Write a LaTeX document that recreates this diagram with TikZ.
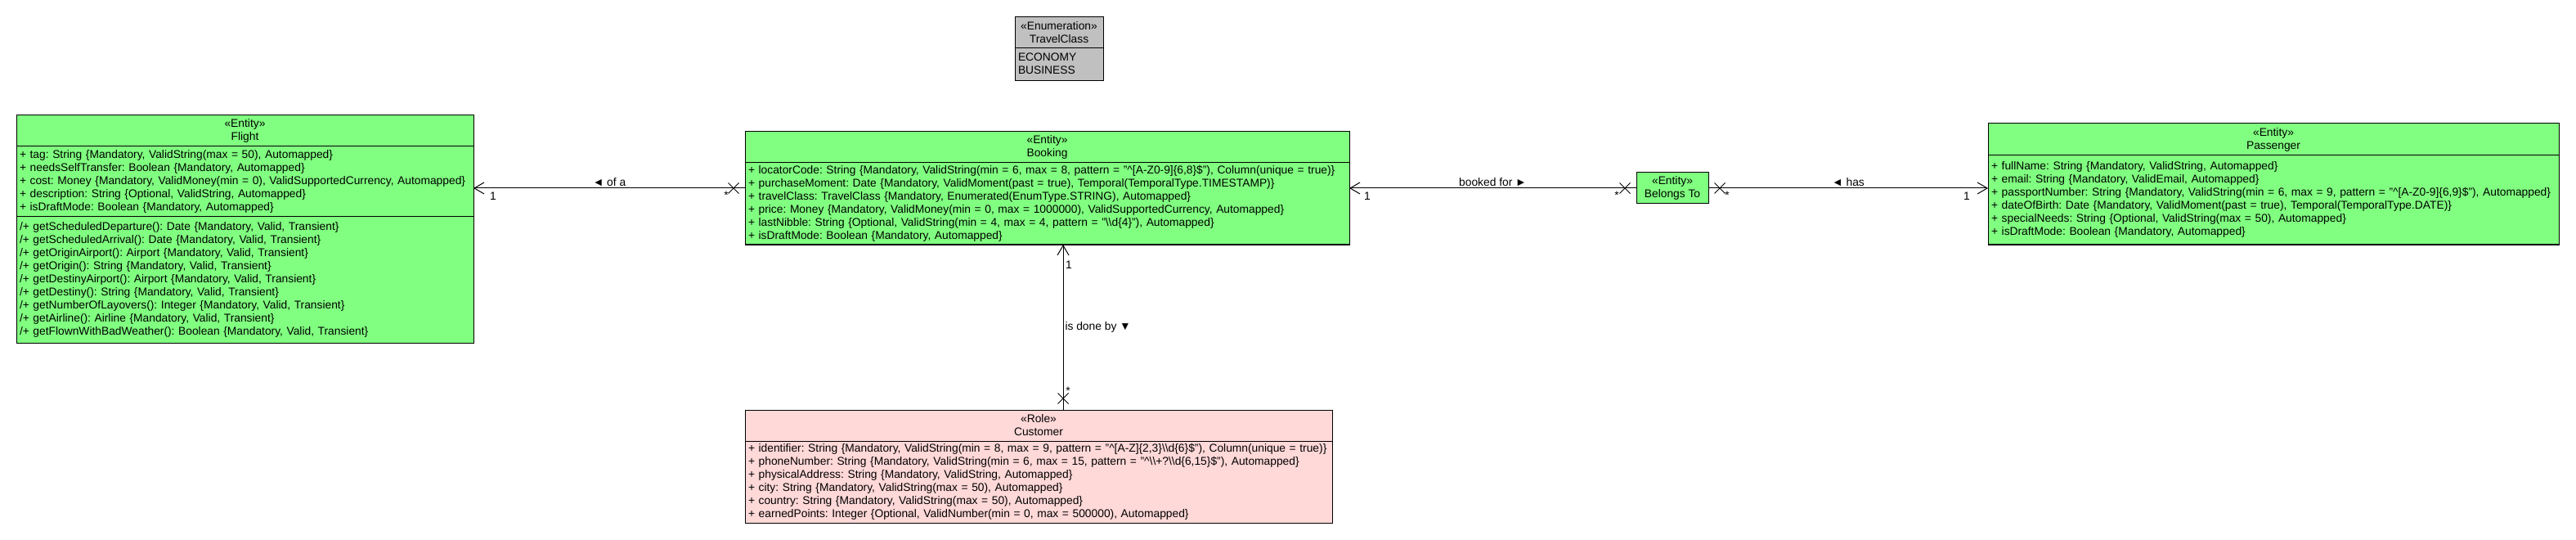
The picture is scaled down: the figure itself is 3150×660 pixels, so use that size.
\documentclass[tikz,border=0pt]{standalone}
\usepackage{fontspec}
\setmainfont{Liberation Sans}
\usepackage{tikz}
\usetikzlibrary{arrows.meta,calc,shapes.misc}
\definecolor{entitygreen}{RGB}{128,255,128}
\definecolor{rolepink}{RGB}{255,216,216}
\definecolor{enumgray}{RGB}{192,192,192}
\newcommand{\umlrows}[1]{\begin{tabular}{@{}l@{}}#1\end{tabular}}
\frenchspacing

\begin{document}
\begin{tikzpicture}[x=1pt,y=-1pt,
    cls/.style={draw, line width=1pt, inner sep=0pt, outer sep=0pt, font=\fontsize{13.8}{16}\selectfont},
    hdr/.style={cls, align=center, anchor=north west},
    cmp/.style={cls, align=left, anchor=north west, inner xsep=4pt},
    entity/.style={fill=entitygreen},
    role/.style={fill=rolepink},
    enum/.style={fill=enumgray},
    assoc/.style={line width=1pt},
    navend/.style={-{Straight Barb[length=12pt,width=14pt]}},
    xmark/.style={draw, cross out, line width=1pt, minimum size=12pt, inner sep=0pt},
    mult/.style={font=\fontsize{13.8}{16}\selectfont, inner sep=0pt},
    lbl/.style={font=\fontsize{13.8}{16}\selectfont, inner sep=2pt}]
  \useasboundingbox (0,0) rectangle (3150,660);

  \node[hdr, enum, minimum width=108pt, minimum height=38pt] (travelclass) at (1241,21) {«Enumeration»\\TravelClass};
  \node[cmp, enum, text width=100pt, minimum height=40pt] (travelclassL) at (travelclass.south west) {\umlrows{ECONOMY\\BUSINESS}};

  \node[hdr, entity, minimum width=559pt, minimum height=38pt] (flight) at (20,141) {«Entity»\\Flight};
  \node[cmp, entity, text width=551pt, minimum height=86pt] (flightA) at (flight.south west) {\umlrows{%
    + tag: String \{Mandatory, ValidString(max = 50), Automapped\}\\
    + needsSelfTransfer: Boolean \{Mandatory, Automapped\}\\
    + cost: Money \{Mandatory, ValidMoney(min = 0), ValidSupportedCurrency, Automapped\}\\
    + description: String \{Optional, ValidString, Automapped\}\\
    + isDraftMode: Boolean \{Mandatory, Automapped\}}};
  \node[cmp, entity, text width=551pt, minimum height=154pt] (flightO) at (flightA.south west) {\umlrows{%
    /+ getScheduledDeparture(): Date \{Mandatory, Valid, Transient\}\\
    /+ getScheduledArrival(): Date \{Mandatory, Valid, Transient\}\\
    /+ getOriginAirport(): Airport \{Mandatory, Valid, Transient\}\\
    /+ getOrigin(): String \{Mandatory, Valid, Transient\}\\
    /+ getDestinyAirport(): Airport \{Mandatory, Valid, Transient\}\\
    /+ getDestiny(): String \{Mandatory, Valid, Transient\}\\
    /+ getNumberOfLayovers(): Integer \{Mandatory, Valid, Transient\}\\
    /+ getAirline(): Airline \{Mandatory, Valid, Transient\}\\
    /+ getFlownWithBadWeather(): Boolean \{Mandatory, Valid, Transient\}}};

  \node[hdr, entity, minimum width=739pt, minimum height=38pt] (booking) at (911,161) {«Entity»\\Booking};
  \node[cmp, entity, text width=731pt, minimum height=100pt] (bookingA) at (booking.south west) {\umlrows{%
    + locatorCode: String \{Mandatory, ValidString(min = 6, max = 8, pattern = "\textasciicircum[A-Z0-9]\{6,8\}\$"), Column(unique = true)\}\\
    + purchaseMoment: Date \{Mandatory, ValidMoment(past = true), Temporal(TemporalType.TIMESTAMP)\}\\
    + travelClass: TravelClass \{Mandatory, Enumerated(EnumType.STRING), Automapped\}\\
    + price: Money \{Mandatory, ValidMoney(min = 0, max = 1000000), ValidSupportedCurrency, Automapped\}\\
    + lastNibble: String \{Optional, ValidString(min = 4, max = 4, pattern = "\textbackslash\textbackslash d\{4\}"), Automapped\}\\
    + isDraftMode: Boolean \{Mandatory, Automapped\}}};

  \node[hdr, entity, minimum width=88pt, minimum height=38pt] (belongs) at (2001,211) {«Entity»\\Belongs To};

  \node[hdr, entity, minimum width=698pt, minimum height=39pt] (passenger) at (2431,151) {«Entity»\\Passenger};
  \node[cmp, entity, text width=690pt, minimum height=109pt] (passengerA) at (passenger.south west) {\umlrows{%
    + fullName: String \{Mandatory, ValidString, Automapped\}\\
    + email: String \{Mandatory, ValidEmail, Automapped\}\\
    + passportNumber: String \{Mandatory, ValidString(min = 6, max = 9, pattern = "\textasciicircum[A-Z0-9]\{6,9\}\$"), Automapped\}\\
    + dateOfBirth: Date \{Mandatory, ValidMoment(past = true), Temporal(TemporalType.DATE)\}\\
    + specialNeeds: String \{Optional, ValidString(max = 50), Automapped\}\\
    + isDraftMode: Boolean \{Mandatory, Automapped\}}};

  \node[hdr, role, minimum width=718pt, minimum height=38pt] (customer) at (911,501) {«Role»\\Customer};
  \node[cmp, role, text width=710pt, minimum height=100pt] (customerA) at (customer.south west) {\umlrows{%
    + identifier: String \{Mandatory, ValidString(min = 8, max = 9, pattern = "\textasciicircum[A-Z]\{2,3\}\textbackslash\textbackslash d\{6\}\$"), Column(unique = true)\}\\
    + phoneNumber: String \{Mandatory, ValidString(min = 6, max = 15, pattern = "\textasciicircum\textbackslash\textbackslash+?\textbackslash\textbackslash d\{6,15\}\$"), Automapped\}\\
    + physicalAddress: String \{Mandatory, ValidString, Automapped\}\\
    + city: String \{Mandatory, ValidString(max = 50), Automapped\}\\
    + country: String \{Mandatory, ValidString(max = 50), Automapped\}\\
    + earnedPoints: Integer \{Optional, ValidNumber(min = 0, max = 500000), Automapped\}}};

  \draw[assoc, navend] (bookingA.west |- belongs) -- (flightA.east |- belongs) node[lbl, midway, above] {◄ of a};
  \node[xmark] (ofaX) at ($(bookingA.west |- belongs)+(-14,0)$) {};
  \node[mult] at ($(flightA.east |- belongs)+(24,10)$) {1};
  \node[mult] at ($(bookingA.west |- belongs)+(-23,9)$) {*};

  \draw[assoc, navend] (belongs.west) -- (bookingA.east |- belongs) node[lbl, midway, above] {booked for ►};
  \node[xmark] (bookedX) at ($(belongs.west)+(-14,0)$) {};
  \node[mult] at ($(bookingA.east |- belongs)+(22,10)$) {1};
  \node[mult] at ($(belongs.west)+(-24,9)$) {*};

  \draw[assoc, navend] (belongs.east) -- (passengerA.west |- belongs) node[lbl, midway, above] {◄ has};
  \node[xmark] (hasX) at ($(belongs.east)+(14,0)$) {};
  \node[mult] at ($(passengerA.west |- belongs)+(-26,10)$) {1};
  \node[mult] at ($(belongs.east)+(23,9)$) {*};

  \coordinate (doneby) at (1300,400);
  \draw[assoc, navend] (customer.north -| doneby) -- (bookingA.south -| doneby) node[lbl, midway, right] {is done by ▼};
  \node[xmark] (donebyX) at ($(customer.north -| doneby)+(0,-14)$) {};
  \node[mult] at ($(bookingA.south -| doneby)+(7,25)$) {1};
  \node[mult] at ($(customer.north -| doneby)+(6,-23)$) {*};
\end{tikzpicture}
\end{document}
